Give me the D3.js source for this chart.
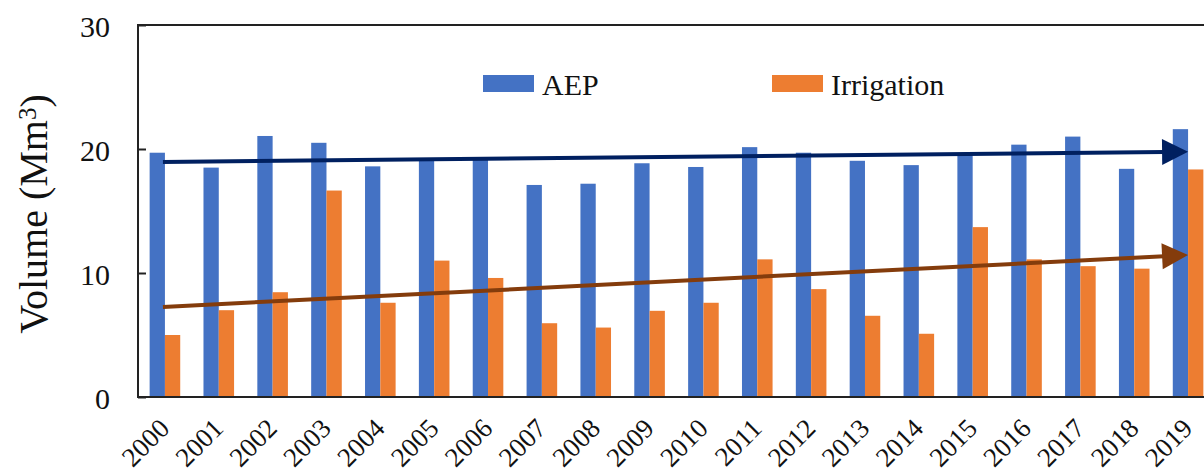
<!DOCTYPE html>
<html>
<head>
<meta charset="utf-8">
<script src="https://cdn.jsdelivr.net/npm/d3@7"></script>
<style>
  body { margin: 0; background: #fff; }
  svg text { font-family: "Liberation Serif", "Times New Roman", Times, serif !important; }
</style>
</head>
<body>
<svg id="chart" width="1204" height="470"></svg>
<script>
// data
var years = ["2000","2001","2002","2003","2004","2005","2006","2007","2008","2009",
             "2010","2011","2012","2013","2014","2015","2016","2017","2018","2019"];
var aep = [19.7, 18.5, 21.05, 20.5, 18.6, 19.1, 19.2, 17.1, 17.2, 18.85,
           18.55, 20.15, 19.7, 19.05, 18.7, 19.6, 20.35, 21.0, 18.4, 21.6];
var irrigation = [5.0, 7.0, 8.45, 16.65, 7.6, 11.0, 9.6, 5.95, 5.6, 6.95,
                  7.6, 11.1, 8.7, 6.55, 5.1, 13.7, 11.1, 10.55, 10.35, 18.35];
var series = ["AEP", "Irrigation"];
var yTicks = [0, 10, 20, 30];
// trend arrows: value at 2000 and at 2019
var aepTrend = [18.95, 19.78];
var irrTrend = [7.26, 11.45];

var colors = { "AEP": "#4472C4", "Irrigation": "#ED7D31" };
var trendColors = ["#002060", "#843C0C"];
var serif = "'Liberation Serif', 'Times New Roman', serif";

var drawChart = function(){
    var left = 138, top = 25, bottom = 397, right = 1215;
    var svg = d3.select("#chart");

    var x = d3.scaleBand()
        .domain(years)
        .range([left, right])
        .paddingInner(0.432)
        .paddingOuter(0.216);
    var xs = d3.scaleBand()
        .domain(series)
        .range([0, x.bandwidth()]);
    var y = d3.scaleLinear()
        .domain([0, 30])
        .range([bottom, top]);

    // bars
    var rows = years.map(function(yr, i){
        return { year: yr, values: [ {k: "AEP", v: aep[i]}, {k: "Irrigation", v: irrigation[i]} ] };
    });
    var g = svg.selectAll(".grp")
        .data(rows)
        .enter()
        .append("g")
        .attr("class", "grp")
        .attr("transform", function(d){ return "translate(" + x(d.year) + ",0)"; });
    g.selectAll("rect")
        .data(function(d){ return d.values; })
        .enter()
        .append("rect")
        .attr("x", function(d){ return xs(d.k); })
        .attr("width", xs.bandwidth())
        .attr("y", function(d){ return y(d.v); })
        .attr("height", function(d){ return y(0) - y(d.v); })
        .style("fill", function(d){ return colors[d.k]; });

    // y axis with inward ticks
    var yAxis = d3.axisLeft(y)
        .tickValues(yTicks)
        .tickSizeInner(-8)
        .tickSizeOuter(0)
        .tickPadding(28);
    var ya = svg.append("g")
        .attr("transform", "translate(" + left + ",0)")
        .call(yAxis)
        .attr("font-family", serif);
    ya.select(".domain").remove();
    ya.selectAll("line").attr("stroke", "#222").attr("stroke-width", 2);
    ya.selectAll("text")
        .attr("dy", "0.38em")
        .style("font-size", "30px")
        .style("fill", "#111");

    // x labels rotated
    var xAxis = d3.axisBottom(x).tickSize(0).tickPadding(0);
    var xa = svg.append("g")
        .attr("transform", "translate(0," + bottom + ")")
        .call(xAxis)
        .attr("font-family", serif);
    xa.select(".domain").remove();
    xa.selectAll("text")
        .attr("y", 0)
        .attr("dy", 0)
        .attr("text-anchor", "end")
        .attr("transform", "translate(6,33) rotate(-45)")
        .style("font-size", "27px")
        .style("fill", "#111");

    // plot frame
    svg.append("rect")
        .attr("x", left)
        .attr("y", top)
        .attr("width", right - left)
        .attr("height", bottom - top)
        .style("fill", "none")
        .style("stroke", "#222")
        .style("stroke-width", 2);

    // trend arrows
    var first = years[0], last = years[years.length - 1];
    var cx = function(yr){ return x(yr) + x.bandwidth() / 2; };
    [aepTrend, irrTrend].forEach(function(t, i){
        var x0 = cx(first) - 2, y0 = y(t[0]);
        var x1 = cx(last), y1 = y(t[1]);
        var ang = Math.atan2(y1 - y0, x1 - x0);
        var len = 26, half = 13;
        var bx = x1 - len * Math.cos(ang), by = y1 - len * Math.sin(ang);
        svg.append("line")
            .attr("x1", x0).attr("y1", y0)
            .attr("x2", bx + 2 * Math.cos(ang)).attr("y2", by + 2 * Math.sin(ang))
            .style("stroke", trendColors[i])
            .style("stroke-width", 4);
        var pts = [
            [x1, y1],
            [bx - half * Math.sin(ang), by + half * Math.cos(ang)],
            [bx + half * Math.sin(ang), by - half * Math.cos(ang)]
        ];
        svg.append("path")
            .attr("d", d3.line()(pts) + "Z")
            .style("fill", trendColors[i]);
    });

    // legend
    var legX = [483, 772];
    var leg = svg.selectAll(".leg")
        .data(series)
        .enter()
        .append("g")
        .attr("class", "leg")
        .attr("transform", function(d, i){ return "translate(" + legX[i] + ",75)"; });
    leg.append("rect")
        .attr("width", 51)
        .attr("height", 17)
        .style("fill", function(d){ return colors[d]; });
    leg.append("text")
        .attr("x", 59)
        .attr("y", 20)
        .style("font-size", "30px")
        .style("fill", "#111")
        .text(function(d){ return d; });

    // y title
    var yt = svg.append("text")
        .attr("transform", "translate(47,214) rotate(-90)")
        .attr("text-anchor", "middle")
        .style("font-size", "40px")
        .style("fill", "#111");
    yt.append("tspan").text("Volume (Mm");
    yt.append("tspan").attr("dy", "-0.45em").style("font-size", "25px").text("3");
    yt.append("tspan").attr("dy", "0.3em").text(")");
};

drawChart();
</script>
</body>
</html>
